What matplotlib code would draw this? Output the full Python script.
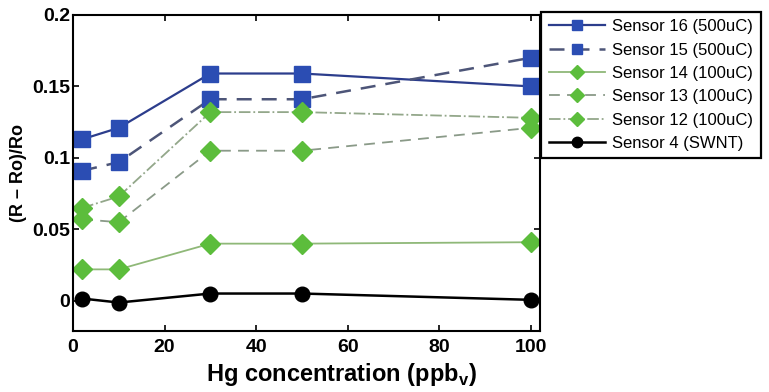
import matplotlib.pyplot as plt
import numpy as np

plt.rcParams['font.family'] = ['Liberation Sans', 'DejaVu Sans']

# Hg concentration (ppb_v)
conc = [2, 10, 30, 50, 100]

# (R - Ro) / Ro for each sensor
sensor16 = [0.113, 0.121, 0.159, 0.159, 0.150]
sensor15 = [0.091, 0.097, 0.141, 0.141, 0.170]
sensor14 = [0.022, 0.022, 0.040, 0.040, 0.041]
sensor13 = [0.057, 0.055, 0.105, 0.105, 0.121]
sensor12 = [0.065, 0.073, 0.132, 0.132, 0.128]
sensor4 = [0.0016, -0.0012, 0.0051, 0.0051, 0.0007]

labels = ['Sensor 16 (500uC)', 'Sensor 15 (500uC)', 'Sensor 14 (100uC)',
          'Sensor 13 (100uC)', 'Sensor 12 (100uC)', 'Sensor 4 (SWNT)']

fig = plt.figure(figsize=(7.69, 3.92), dpi=100)
ax = fig.add_axes([0.095, 0.156, 0.607, 0.806])

blue = '#2b4db3'
green = '#5cbd3c'

ax.plot(conc, sensor16, '-', color='#2c3d8c', lw=1.6, marker='s', ms=11,
        mfc=blue, mec=blue, label=labels[0])
ax.plot(conc, sensor15, '--', color='#4d5578', lw=1.8, dashes=(6, 4), marker='s', ms=11,
        mfc=blue, mec=blue, label=labels[1])
ax.plot(conc, sensor14, '-', color='#8fb878', lw=1.3, marker='D', ms=10,
        mfc=green, mec=green, label=labels[2])
ax.plot(conc, sensor13, '--', color='#8a9a88', lw=1.3, dashes=(6, 4), marker='D', ms=10,
        mfc=green, mec=green, label=labels[3])
ax.plot(conc, sensor12, '-.', color='#93a78a', lw=1.3, marker='D', ms=10,
        mfc=green, mec=green, label=labels[4])
ax.plot(conc, sensor4, '-', color='black', lw=1.8, marker='o', ms=10.5,
        mfc='black', mec='black', label=labels[5])

ax.set_xlim(0, 102)
ax.set_ylim(-0.021, 0.2)
ax.set_xticks([0, 20, 40, 60, 80, 100])
ax.set_yticks([0, 0.05, 0.1, 0.15, 0.2])
ax.set_yticklabels(['0', '0.05', '0.1', '0.15', '0.2'])
ax.tick_params(direction='in', top=True, right=True, length=4, width=1.2,
               labelsize=14)
ax.tick_params(axis='y', pad=2)
ax.tick_params(axis='x', pad=6)
for lab in ax.get_xticklabels() + ax.get_yticklabels():
    lab.set_fontweight('bold')
for s in ax.spines.values():
    s.set_linewidth(1.5)

ax.set_xlabel('Hg concentration (ppb$_\\mathregular{v}$)', fontsize=17, fontweight='bold')
ax.xaxis.set_label_coords(0.576, -0.095)
ax.set_ylabel('(R \u2013 Ro)/Ro', fontsize=13, fontweight='bold', labelpad=4)

leg = ax.legend(loc='upper left', bbox_to_anchor=(1.003, 1.01), fontsize=12,
                frameon=True, fancybox=False, edgecolor='black', framealpha=1,
                borderaxespad=0, handlelength=3.4, labelspacing=0.5,
                borderpad=0.45, handletextpad=0.4)
leg.get_frame().set_linewidth(1.6)
for h in leg.legend_handles:
    h.set_markersize(7.5)

fig.savefig('out.png', dpi=100)
